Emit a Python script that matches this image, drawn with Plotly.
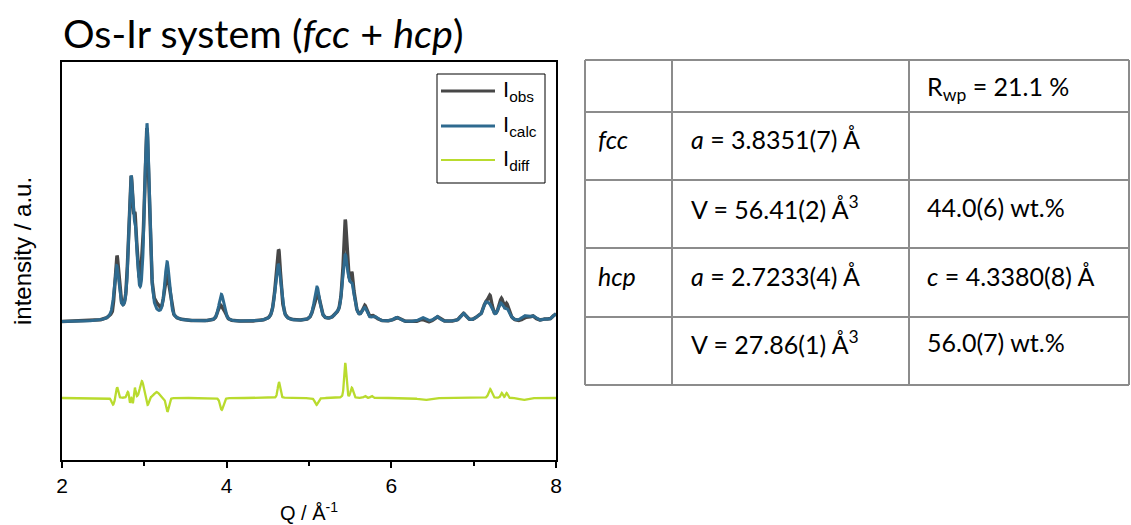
import numpy as np
import plotly.graph_objects as go

# ---- refinement data (Os-Ir, fcc + hcp) ----
# calculated pattern: reflection positions (1/Å), heights (a.u.), FWHM (1/Å)
calc_q = [2.664, 2.838, 2.895, 3.032, 3.277, 3.936, 4.614, 4.634, 5.097, 5.328,
          5.434, 5.448, 5.522, 5.676, 5.794, 6.065, 6.377, 6.554, 6.875, 7.049,
          7.142, 7.196, 7.328, 7.407, 7.621, 7.717, 7.871, 7.992, 8.060]
calc_h = [52, 133, 60, 194, 57, 27, 30, 31, 34, 3,
          40, 24, 30, 12, 4, 4, 4, 5, 8, 3,
          14, 12, 16, 10, 5, 5, 2, 6, 6]
calc_w = [0.070, 0.065, 0.055, 0.070, 0.070, 0.075, 0.080, 0.075, 0.080, 0.080,
          0.075, 0.080, 0.080, 0.075, 0.080, 0.085, 0.085, 0.080, 0.085, 0.085,
          0.080, 0.085, 0.080, 0.085, 0.090, 0.090, 0.090, 0.090, 0.090]

# residual features (Iobs - Icalc): positions, signed amplitudes, widths
diff_q = [2.620, 2.670, 2.800, 2.826, 2.860, 2.885, 2.970, 3.040, 3.150, 3.280,
          3.940, 4.635, 5.090, 5.440, 5.520, 5.680, 5.760, 6.400, 7.200, 7.340,
          7.400, 7.600]
diff_a = [-7, 11, 6, -6, -6, 10, 17, -8, 6, -14,
          -12, 16, -7, 35, 10, 2, 2, -2, 9, 5,
          5, -2]
diff_w = [0.040, 0.030, 0.030, 0.015, 0.015, 0.020, 0.055, 0.030, 0.080, 0.040,
          0.045, 0.035, 0.045, 0.032, 0.035, 0.030, 0.030, 0.150, 0.045, 0.030,
          0.030, 0.100]

diff_offset = -76
q_range = [2, 8]
q_ticks = [2, 4, 6, 8]

# refined parameters table
table_rows = [
    ["", "", "R<sub>wp</sub> = 21.1 %"],
    ["<i>fcc</i>", "<i>a</i> = 3.8351(7) Å", ""],
    ["", "V = 56.41(2) Å<sup>3</sup>", "44.0(6) wt.%"],
    ["<i>hcp</i>", "<i>a</i> = 2.7233(4) Å", "<i>c</i> = 4.3380(8) Å"],
    ["", "V = 27.86(1) Å<sup>3</sup>", "56.0(7) wt.%"],
]

C_OBS = "#474747"
C_CALC = "#2e6a8f"
C_DIFF = "#b9db2e"
ARIAL = "Liberation Sans"


def pseudo_voigt(q, pos, h, w, eta=0.6):
    d = (q - pos) / w
    lor = 1.0 / (1.0 + 4.0 * d ** 2)
    gau = np.exp(-4.0 * np.log(2.0) * d ** 2)
    return h * (eta * lor + (1 - eta) * gau)


q = np.linspace(q_range[0], q_range[1], 3001)
i_calc = np.zeros_like(q)
for p, h, w in zip(calc_q, calc_h, calc_w):
    i_calc += pseudo_voigt(q, p, h, w)
i_diff = np.zeros_like(q)
for p, a, w in zip(diff_q, diff_a, diff_w):
    i_diff += pseudo_voigt(q, p, a, w, eta=0.3)
i_obs = i_calc + i_diff

fig = go.Figure()
fig.add_trace(go.Scatter(x=q, y=i_obs, mode="lines", name="I<sub>obs</sub>",
                         line=dict(color=C_OBS, width=3.5)))
fig.add_trace(go.Scatter(x=q, y=i_calc, mode="lines", name="I<sub>calc</sub>",
                         line=dict(color=C_CALC, width=3)))
fig.add_trace(go.Scatter(x=q, y=i_diff + diff_offset, mode="lines", name="I<sub>diff</sub>",
                         line=dict(color=C_DIFF, width=2.3)))

# plot-area geometry in pixels
L, R, T, B = 62, 556, 62, 460
W, H = R - L, B - T


def px(x):
    return (x - L) / W


def py(y):
    return (B - y) / H


shapes = []
annotations = []

# legend
shapes.append(dict(type="rect", xref="paper", yref="paper",
                   x0=px(437), x1=px(545), y0=py(183), y1=py(74),
                   line=dict(color="black", width=1), fillcolor="white"))
for yy, name, col, lw in [(91, "obs", C_OBS, 3), (126, "calc", C_CALC, 3), (160, "diff", C_DIFF, 2)]:
    shapes.append(dict(type="line", xref="paper", yref="paper",
                       x0=px(441), x1=px(495), y0=py(yy), y1=py(yy),
                       line=dict(color=col, width=lw)))
    annotations.append(dict(xref="paper", yref="paper", x=px(501), y=py(yy),
                            xanchor="left", yanchor="middle", showarrow=False,
                            text="I<sub>%s</sub>" % name,
                            font=dict(family=ARIAL, size=22, color="black")))

# table grid
col_x = [585, 672, 909, 1129]
row_y = [60, 112, 180, 248, 317, 385]
grid = dict(color="#8c8c8c", width=2)
for xx in col_x:
    shapes.append(dict(type="line", xref="paper", yref="paper",
                       x0=px(xx), x1=px(xx), y0=py(row_y[0]), y1=py(row_y[-1]), line=grid))
for yy in row_y:
    shapes.append(dict(type="line", xref="paper", yref="paper",
                       x0=px(col_x[0]), x1=px(col_x[-1]), y0=py(yy), y1=py(yy), line=grid))

text_x = [596, 689, 925]
text_y = [88, 139, 207, 276, 342]
for r, row in enumerate(table_rows):
    for c, txt in enumerate(row):
        if not txt:
            continue
        annotations.append(dict(xref="paper", yref="paper", x=px(text_x[c]), y=py(text_y[r]),
                                xanchor="left", yanchor="middle", showarrow=False, text=txt,
                                font=dict(family="Lato", size=25, color="black")))

# title and axis labels
annotations.append(dict(xref="paper", yref="paper", x=px(61), y=py(32),
                        xanchor="left", yanchor="middle", showarrow=False,
                        text="Os-Ir system (<i>fcc</i> + <i>hcp</i>)",
                        font=dict(family="Lato", size=39.5, color="black")))
annotations.append(dict(xref="paper", yref="paper", x=px(309), y=py(512),
                        xanchor="center", yanchor="middle", showarrow=False,
                        text="Q / Å<sup>-1</sup>",
                        font=dict(family=ARIAL, size=20, color="black")))
annotations.append(dict(xref="paper", yref="paper", x=px(22), y=py(251),
                        xanchor="center", yanchor="middle", showarrow=False, textangle=-90,
                        text="intensity / a.u.",
                        font=dict(family=ARIAL, size=24, color="black")))

fig.update_layout(
    width=1131, height=525,
    margin=dict(l=L, r=1131 - R, t=T, b=525 - B, pad=0),
    paper_bgcolor="white", plot_bgcolor="white",
    showlegend=False,
    shapes=shapes, annotations=annotations,
    xaxis=dict(range=q_range, tickvals=q_ticks, ticks="outside", ticklen=6, tickwidth=1.5,
               tickcolor="black", showline=True, linecolor="black", linewidth=1.5, mirror=True,
               showgrid=False, zeroline=False,
               minor=dict(tickvals=[3, 5, 7], ticks="outside", ticklen=4, tickwidth=1.5,
                          tickcolor="black", showgrid=False),
               tickfont=dict(family=ARIAL, size=21, color="black")),
    yaxis=dict(range=[-138, 260], showticklabels=False, ticks="", showline=True,
               linecolor="black", linewidth=1.5, mirror=True, showgrid=False, zeroline=False),
)

fig.write_html("out.html")
